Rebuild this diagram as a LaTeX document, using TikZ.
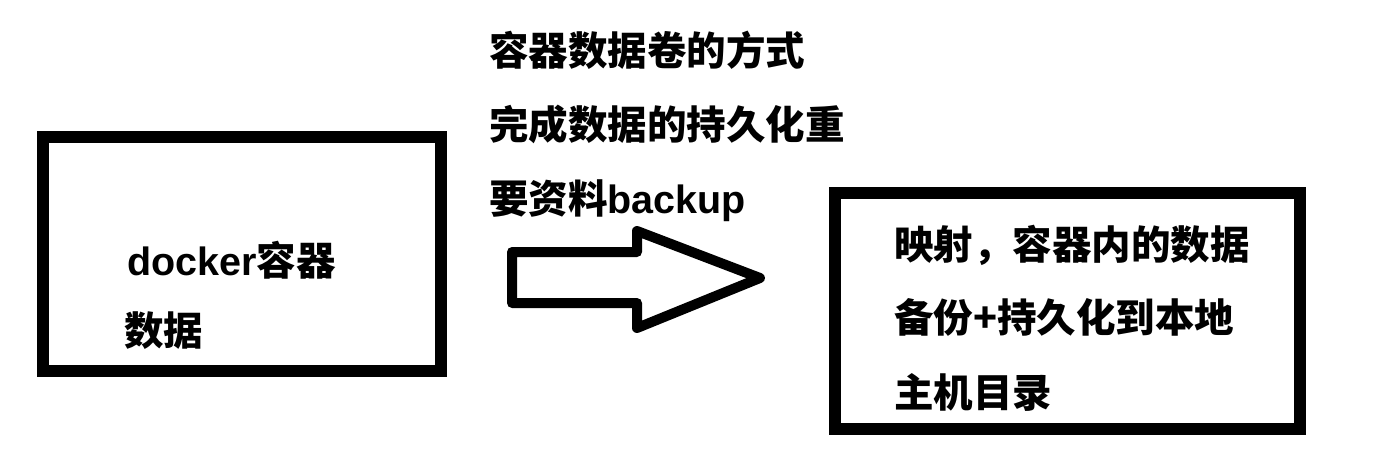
\documentclass[tikz,border=0pt]{standalone}
\usepackage{fontspec}
\setmainfont{Liberation Sans}
\newfontfamily\cjk{Noto Sans CJK SC}
\begin{document}
\begin{tikzpicture}[x=1pt,y=-1pt,
  boxframe/.style={draw=black,line width=12pt,inner sep=0pt,outer sep=0pt},
  txt/.style={anchor=base west,inner sep=0pt,outer sep=0pt,font=\fontsize{39.5}{47}\selectfont\bfseries},
  bigarrow/.style={draw=black,line width=10pt,line join=round,fill=white}]
\useasboundingbox (0,0) rectangle (1392,476);
\fill[white] (0,0) rectangle (1392,476);
% boxes
\coordinate (lbtl) at (43,137);
\coordinate (lbbr) at (441,371);
\coordinate (rbtl) at (835,193);
\coordinate (rbbr) at (1300,429);
\draw[boxframe] (lbtl) rectangle (lbbr);
\draw[boxframe] (rbtl) rectangle (rbbr);
% top text
\node[txt] (t1) at (489,65.5) {\cjk 容器数据卷的方式};
\node[txt] (t2) at (489,139.5) {\cjk 完成数据的持久化重};
\node[txt] (t3) at (489,213.5) {{\cjk 要资料}backup};
% left box text
\node[txt] (l1) at (127,275) {docker{\cjk 容器}};
\node[txt] (l2) at (124,345) {\cjk 数据};
% right box text
\node[txt] (r1) at (894,259) {\cjk 映射，容器内的数据};
\node[txt] (r2) at (894,332.5) {\cjk 备份+持久化到本地};
\node[txt] (r3) at (894,407) {\cjk 主机目录};
% big arrow
\draw[bigarrow] (512,252) -- (637,252) -- (637,231) -- (760,278) -- (637,328) -- (637,303) -- (512,303) -- cycle;
\end{tikzpicture}
\end{document}
